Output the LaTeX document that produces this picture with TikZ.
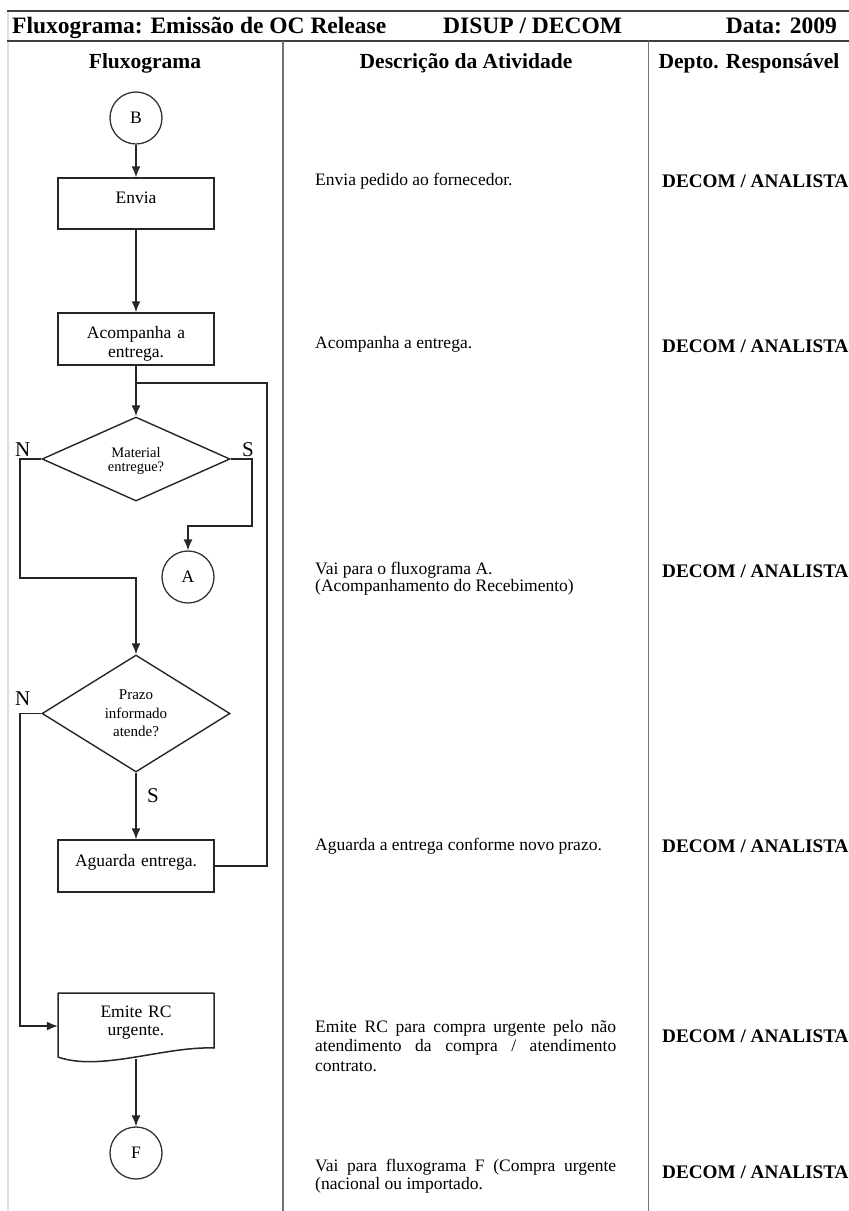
\documentclass[tikz,border=0pt]{standalone}
\usepackage{fontspec}
\setmainfont{Liberation Serif}
\usetikzlibrary{arrows.meta,shapes.geometric}

\newcommand{\fsz}[2]{\fontsize{#1}{#2}\selectfont}

\begin{document}
\begin{tikzpicture}[
  x=1pt, y=-1pt,
  frame/.style={line width=2pt, draw=black!75},
  colrule/.style={line width=1.6pt, draw=black!55},
  flow/.style={draw=black!85, line width=1.5pt},
  arr/.style={flow, -{Latex[length=11pt,width=9pt]}},
  procbox/.style={draw=black!85, line width=1.5pt, rectangle, minimum width=156pt,
    inner sep=0pt, text width=150pt, align=center, font=\fsz{17.5}{19}},
  docnode/.style={rectangle, minimum width=156pt, minimum height=66pt,
    inner sep=0pt, text width=150pt, align=center, font=\fsz{17.5}{18}},
  conn/.style={draw=black!80, line width=1.3pt, circle, minimum size=52pt,
    inner sep=0pt, font=\fsz{17.5}{19}},
  decision/.style={draw=black!85, line width=1.4pt, diamond, inner sep=0pt,
    align=center, text width=80pt, minimum width=188pt},
  hdr/.style={inner sep=0pt, font=\bfseries\fsz{23.5}{26}},
  colhdr/.style={anchor=base, inner sep=0pt, font=\bfseries\fsz{21.5}{24}},
  desc/.style={anchor=base west, inner sep=0pt, text width=301pt, align=justify,
    font=\fsz{17.5}{19}},
  dept/.style={anchor=base west, inner sep=0pt, font=\bfseries\fsz{19.2}{21}},
  yn/.style={anchor=base west, inner sep=0pt, font=\fsz{21}{23}}
]
\useasboundingbox (0,0) rectangle (849,1211);

% form frame and column rules
\draw[draw=gray!25, line width=2pt] (7.5,11) -- (7.5,1211);
\draw[frame] (7,11) -- (849,11);
\draw[frame] (7,41) -- (849,41);
\draw[colrule] (283,41) -- (283,1211);
\draw[colrule] (648.5,41) -- (648.5,1211);

% title row
\node[hdr, anchor=base west] (title) at (12,33) {Fluxograma: Emissão de OC Release};
\node[hdr, anchor=base west] (dept) at (443,33) {DISUP / DECOM};
\node[hdr, anchor=base east] (date) at (837,33) {Data: 2009};

% column headings
\node[colhdr] (h1) at (145,68) {Fluxograma};
\node[colhdr] (h2) at (466,68) {Descrição da Atividade};
\node[colhdr] (h3) at (749,68) {Depto. Responsável};

% flowchart
\node[conn] (B) at (136,118) {B};
\node[procbox, minimum height=51pt, text height=10pt, text depth=11pt] (envia) at (136,203.5) {Envia};
\node[procbox, minimum height=52pt, text height=12pt, text depth=14pt] (acomp) at (136,339) {Acompanha a\\entrega.};
\coordinate (j1) at (136,383);
\coordinate (loopR) at (267,383);
\node[decision, minimum height=84pt, shape aspect=2.24, font=\fsz{14.5}{14},
  text height=10pt, text depth=14pt] (dia1) at (136,459) {Material\\entregue?};
\node[conn] (A) at (188,577) {A};
\node[decision, minimum height=117pt, shape aspect=1.6, font=\fsz{15}{18.5},
  text height=10pt, text depth=38pt] (dia2) at (136,713.5) {Prazo\\informado\\atende?};
\node[procbox, minimum height=52pt, text height=8pt, text depth=8pt] (aguarda) at (136,866) {Aguarda entrega.};
\node[docnode, text height=10pt, text depth=28pt] (emite) at (136,1026) {Emite RC\\urgente.};
\node[conn] (F) at (136,1153) {F};

% document symbol outline
\draw[draw=black!85, line width=1.5pt, line join=round]
  (58,1057) -- (58,993) -- (214,993) -- (214,1048)
  .. controls (165,1046) and (100,1072) .. cycle;

% decision labels
\node[yn] (n1) at (15,456) {N};
\node[yn] (s1) at (242,456) {S};
\node[yn] (n2) at (15,705) {N};
\node[yn] (s2) at (147,802) {S};

% connectors
\coordinate (nA) at (20,578);
\coordinate (sA) at (252,526);
\coordinate (nB) at (20,1026);
\draw[arr] (B) -- (envia);
\draw[arr] (envia) -- (acomp);
\draw[arr] (acomp) -- (dia1);
\draw[flow] (aguarda.east) -| (loopR) -- (j1);
\draw[arr] (dia1.west) -| (nA) -| (dia2.north);
\draw[arr] (dia1.east) -| (sA) -| (A.north);
\draw[arr] (dia2.south) -- (aguarda.north);
\draw[arr] (dia2.west) -| (nB) -- (emite.west);
\draw[arr] (emite.south) -- (F.north);

% activity descriptions
\node[desc] (d1) at (315,185) {Envia pedido ao fornecedor.};
\node[desc] (d2) at (315,348) {Acompanha a entrega.};
\node[desc, font=\fsz{17.5}{17}] (d3) at (315,574) {Vai para o fluxograma A.\\(Acompanhamento do Recebimento)};
\node[desc] (d4) at (315,850) {Aguarda a entrega conforme novo prazo.};
\node[desc, font=\fsz{17.5}{19.5}] (d5) at (315,1032) {Emite RC para compra urgente pelo não\linebreak atendimento da compra / atendimento\linebreak contrato.};
\node[desc, font=\fsz{17.5}{18}] (d6) at (315,1171) {Vai para fluxograma F (Compra urgente\linebreak (nacional ou importado.};

% responsible departments
\node[dept] (r1) at (662,187) {DECOM / ANALISTA};
\node[dept] (r2) at (662,352) {DECOM / ANALISTA};
\node[dept] (r3) at (662,577) {DECOM / ANALISTA};
\node[dept] (r4) at (662,852) {DECOM / ANALISTA};
\node[dept] (r5) at (662,1042) {DECOM / ANALISTA};
\node[dept] (r6) at (662,1178) {DECOM / ANALISTA};
\end{tikzpicture}
\end{document}
